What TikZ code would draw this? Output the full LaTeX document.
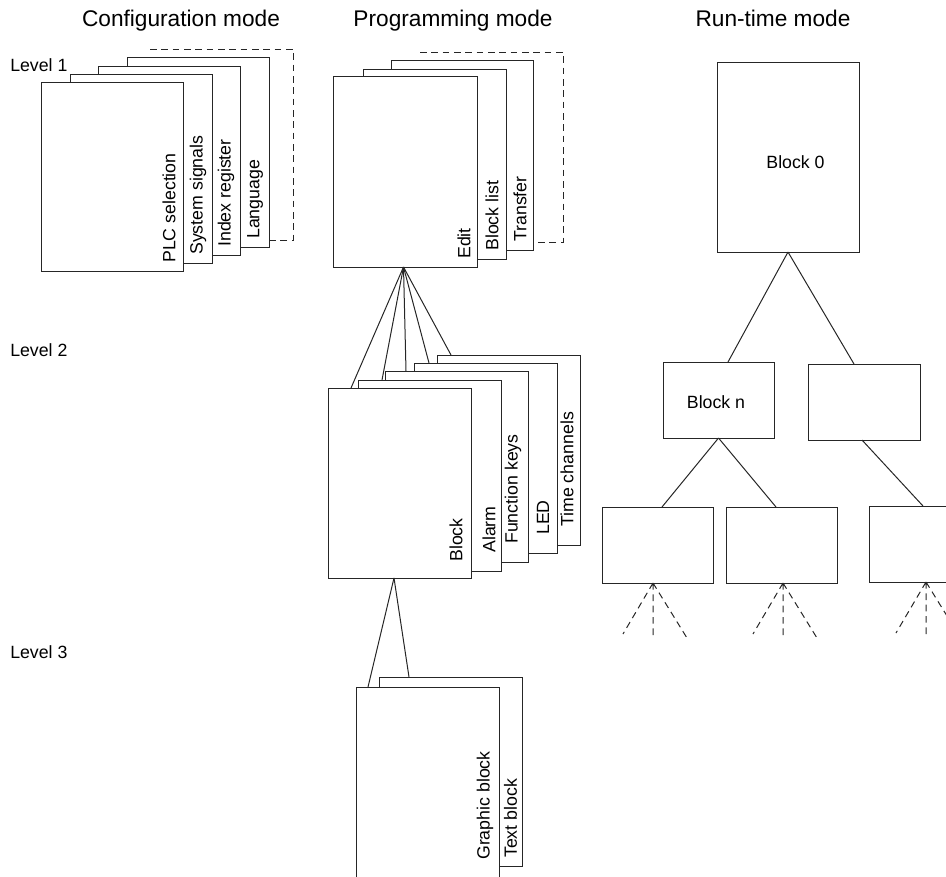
\documentclass[tikz,border=0pt]{standalone}
\usepackage{fontspec}
\setmainfont{Liberation Sans}
\usetikzlibrary{calc}
\begin{document}
\begin{tikzpicture}[x=0.75pt,y=-0.75pt,
  pg/.style 2 args={draw=black!85, fill=white, line width=0.75pt, inner sep=0pt, outer sep=0pt, anchor=north west, minimum width=#1*0.75pt, minimum height=#2*0.75pt},
  ghost/.style 2 args={inner sep=0pt, outer sep=0pt, anchor=north west, minimum width=#1*0.75pt, minimum height=#2*0.75pt},
  lbl/.style={font=\fontsize{13.3}{16}\selectfont, inner sep=0pt},
  vlbl/.style={lbl, rotate=90, anchor=west},
  ttl/.style={font=\fontsize{17}{20}\selectfont, inner sep=0pt, anchor=base},
  conn/.style={draw=black!85, line width=0.75pt},
  dsh/.style={conn, dash pattern=on 5pt off 3.5pt}]
\useasboundingbox (0,0) rectangle (946,876);
\clip (0,0) rectangle (946,876);

% titles
\node[ttl] (t1) at (181,26) {Configuration mode};
\node[ttl] (t2) at (453,26) {Programming mode};
\node[ttl] (t3) at (773,26) {Run-time mode};

% level labels
\node[lbl, anchor=base west] (l1) at (10,71) {Level 1};
\node[lbl, anchor=base west] (l2) at (10,356) {Level 2};
\node[lbl, anchor=base west] (l3) at (10,658) {Level 3};

% ---------- Configuration mode ----------
\node[ghost={143}{191}] (c5) at (150,49) {};
\draw[dsh] (c5.north west) -| (c5.south east) -- (c5.south west);
\node[pg={142}{190}] (c4) at (127,57) {};
\node[vlbl] at ($(c4.south east)+(-14,-8)$) {Language};
\node[pg={142}{189}] (c3) at (98,66) {};
\node[vlbl] at ($(c3.south east)+(-14,-8)$) {Index register};
\node[pg={142}{189}] (c2) at (70,74) {};
\node[vlbl] at ($(c2.south east)+(-14,-8)$) {System signals};
\node[pg={142}{189}] (c1) at (41,82) {};
\node[vlbl] at ($(c1.south east)+(-14,-8)$) {PLC selection};

% ---------- Programming mode ----------
\node[ghost={143}{190}] (p4) at (420,52) {};
\draw[dsh] (p4.north west) -| (p4.south east) -- (p4.south west);
\node[pg={142}{190}] (p3) at (391,60) {};
\node[vlbl] at ($(p3.south east)+(-13,-8)$) {Transfer};
\node[pg={143}{190}] (p2) at (363,69) {};
\node[vlbl] at ($(p2.south east)+(-14,-8)$) {Block list};
\node[pg={144}{191}] (p1) at (333,76) {};
\node[vlbl] at ($(p1.south east)+(-13,-8)$) {Edit};

% level 2
\node[pg={143}{190}] (q5) at (437,355) {};
\node[vlbl] at ($(q5.south east)+(-13,-18)$) {Time channels};
\node[pg={143}{190}] (q4) at (414,363) {};
\node[vlbl] at ($(q4.south east)+(-14,-18)$) {LED};
\node[pg={143}{191}] (q3) at (385,371) {};
\node[vlbl] at ($(q3.south east)+(-15,-18)$) {Function keys};
\node[pg={143}{191}] (q2) at (358,380) {};
\node[vlbl] at ($(q2.south east)+(-12,-18)$) {Alarm};
\node[pg={143}{190}] (q1) at (328,388) {};
\node[vlbl] at ($(q1.south east)+(-15,-16)$) {Block};

\coordinate (pa) at ($(p1.south)+(-1.5,0)$);
\draw[conn] (pa) -- ($(q1.north west)+(23,0)$);
\draw[conn] (pa) -- ($(q2.north west)+(24,0)$);
\draw[conn] (pa) -- ($(q3.north west)+(21,0)$);
\draw[conn] (pa) -- ($(q4.north west)+(15,0)$);
\draw[conn] (pa) -- ($(q5.north west)+(14,0)$);

% level 3
\node[pg={143}{189}] (r2) at (379,677) {};
\node[vlbl] at ($(r2.south east)+(-11.5,-8)$) {Text block};
\node[pg={143}{192}] (r1) at (356,687) {};
\node[vlbl] at ($(r1.north east)+(-14,173)$) {Graphic block};

\coordinate (qa) at ($(q1.south)+(-5.5,0)$);
\draw[conn] (qa) -- ($(r1.north west)+(12,0)$);
\draw[conn] (qa) -- ($(r2.north west)+(30,0)$);

% ---------- Run-time mode ----------
\node[pg={142}{190}] (b0) at (717,62) {};
\node[lbl, anchor=base] at (795.5,168) {Block 0};
\node[pg={111}{76}] (bn) at (663,362) {};
\node[lbl, anchor=base] at (716,408) {Block n};
\node[pg={112}{76}] (bm) at (808,364) {};
\node[pg={111}{76}] (ba) at (602,507) {};
\node[pg={111}{76}] (bb) at (726,507) {};
\node[pg={111}{76}] (bc) at (869,506) {};

\draw[conn] (b0.south) -- ($(bn.north west)+(65,0)$);
\draw[conn] (b0.south) -- ($(bm.north west)+(46,0)$);
\draw[conn] (bn.south) -- ($(ba.north west)+(60,0)$);
\draw[conn] (bn.south) -- ($(bb.north west)+(50,0)$);
\draw[conn] ($(bm.south west)+(54,0)$) -- ($(bc.north west)+(54,0)$);

\foreach \b/\o in {ba/-4.5, bb/1.5, bc/1.5}{
  \coordinate (\b t) at ($(\b.south)+(\o,0)$);
  \coordinate (\b l) at ($(\b t)+(-30,51)$);
  \coordinate (\b m) at ($(\b t)+(0,55)$);
  \coordinate (\b r) at ($(\b t)+(34,55)$);
  \draw[dsh] (\b t) -- (\b l) (\b t) -- (\b m) (\b t) -- (\b r);
}
\end{tikzpicture}
\end{document}
